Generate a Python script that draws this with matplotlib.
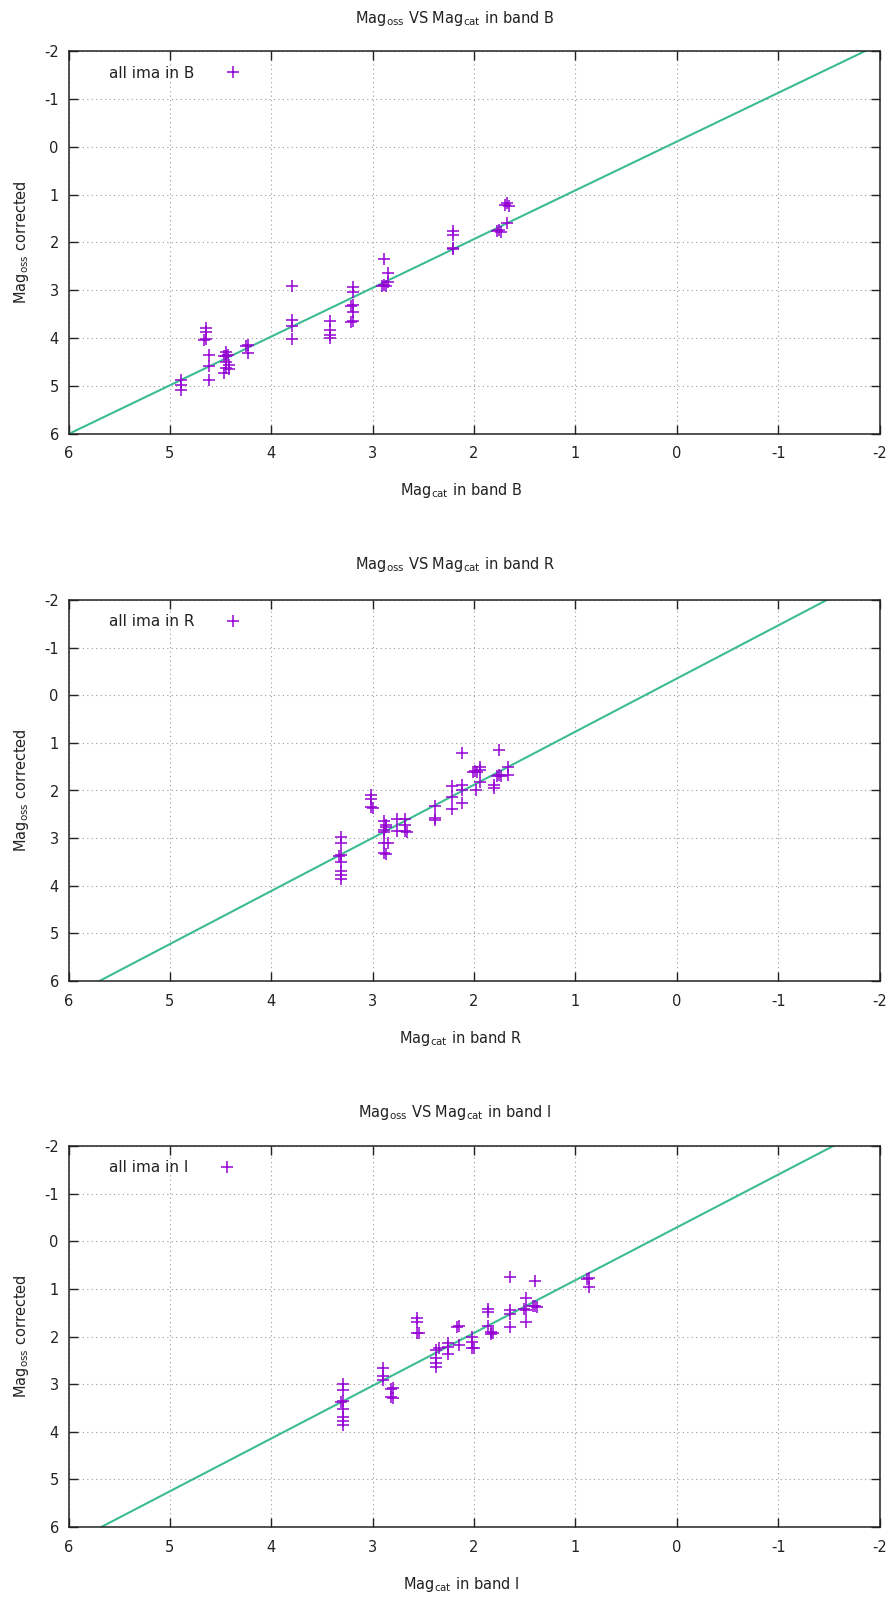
import matplotlib
matplotlib.use("Agg")
import matplotlib.pyplot as plt
import numpy as np

plt.rcParams['font.family'] = ['DejaVu Sans']
plt.rcParams['mathtext.fontset'] = 'dejavusans'
plt.rcParams['axes.unicode_minus'] = False

# ---------------- data ----------------
bands = ["B", "R", "I"]

xcat_B = [4.89, 4.89, 4.89, 4.64, 4.64, 4.64, 4.66, 4.61, 4.61, 4.61, 4.47, 4.47,
          4.45, 4.45, 4.45, 4.45, 4.43, 4.42, 4.42, 4.23, 4.23, 4.25,
          3.80, 3.80, 3.80, 3.80, 3.42, 3.42, 3.42, 3.42,
          3.19, 3.19, 3.19, 3.21, 3.19, 3.21, 3.19,
          2.89, 2.85, 2.85, 2.89, 2.87, 2.91,
          2.21, 2.21, 2.21, 2.21, 1.75, 1.73, 1.77, 1.67, 1.69, 1.65, 1.67]
yoss_B = [4.87, 4.97, 5.08, 3.79, 3.86, 4.02, 4.04, 4.36, 4.59, 4.87, 4.38, 4.73,
          4.28, 4.38, 4.49, 4.63, 4.36, 4.56, 4.65, 4.14, 4.31, 4.16,
          2.90, 3.62, 3.74, 4.02, 3.65, 3.83, 3.93, 4.00,
          2.93, 3.04, 3.30, 3.32, 3.46, 3.67, 3.65,
          2.34, 2.64, 2.82, 2.88, 2.90, 2.90,
          1.76, 1.84, 2.12, 2.14, 1.74, 1.79, 1.77, 1.18, 1.22, 1.23, 1.60]

xcat_R = [3.31, 3.31, 3.31, 3.33, 3.31, 3.31, 3.31, 3.31,
          3.02, 3.02, 3.02, 3.00,
          2.89, 2.89, 2.89, 2.89, 2.89, 2.87, 2.87, 2.87, 2.85,
          2.76, 2.76, 2.68, 2.68, 2.68, 2.66,
          2.38, 2.38, 2.38, 2.22, 2.22, 2.22,
          2.12, 2.12, 2.12, 2.12, 1.99, 2.01, 1.97, 1.94, 1.94, 1.94, 1.98,
          1.80, 1.80, 1.75, 1.75, 1.73, 1.77, 1.66, 1.66]
yoss_R = [2.98, 3.10, 3.35, 3.37, 3.51, 3.69, 3.78, 3.85,
          2.10, 2.17, 2.34, 2.36,
          2.65, 2.83, 2.88, 3.10, 3.31, 3.33, 2.72, 2.76, 3.10,
          2.60, 2.85, 2.60, 2.72, 2.85, 2.87,
          2.33, 2.58, 2.62, 1.91, 2.13, 2.39,
          1.21, 1.89, 1.98, 2.27, 1.59, 1.61, 1.62, 1.51, 1.56, 1.82, 1.98,
          1.88, 1.94, 1.15, 1.68, 1.69, 1.70, 1.51, 1.68]

xcat_I = [3.29, 3.29, 3.29, 3.31, 3.29, 3.29, 3.29, 3.29,
          2.90, 2.90, 2.90, 2.80, 2.80, 2.82, 2.82,
          2.56, 2.56, 2.56, 2.54, 2.37, 2.37, 2.37, 2.37, 2.35,
          2.26, 2.26, 2.26, 2.15, 2.17, 2.15, 2.02, 2.02, 2.02, 2.00,
          1.86, 1.86, 1.86, 1.83, 1.83, 1.81,
          1.64, 1.64, 1.64, 1.64, 1.49, 1.49, 1.49, 1.51,
          1.40, 1.40, 1.42, 1.38, 0.87, 0.87, 0.89]
yoss_I = [2.99, 3.13, 3.36, 3.38, 3.52, 3.70, 3.78, 3.85,
          2.67, 2.83, 2.91, 3.08, 3.29, 3.10, 3.27,
          1.62, 1.69, 1.92, 1.93, 2.28, 2.46, 2.56, 2.63, 2.25,
          2.14, 2.21, 2.37, 1.78, 1.80, 2.18, 2.00, 2.11, 2.25, 2.24,
          1.43, 1.48, 1.78, 1.90, 1.95, 1.93,
          0.75, 1.44, 1.53, 1.81, 1.20, 1.44, 1.69, 1.42,
          0.83, 1.36, 1.37, 1.38, 0.78, 0.96, 0.80]

# linear fit (slope, intercept) per band
fit_B = (1.018, -0.107)
fit_R = (1.115, -0.35)
fit_I = (1.108, -0.29)

xticks = [6, 5, 4, 3, 2, 1, 0, -1, -2]
yticks = [-2, -1, 0, 1, 2, 3, 4, 5, 6]

data = {"B": (xcat_B, yoss_B, fit_B), "R": (xcat_R, yoss_R, fit_R), "I": (xcat_I, yoss_I, fit_I)}

# ---------------- layout ----------------
W, H = 891, 1601
fig = plt.figure(figsize=(W / 100, H / 100), dpi=100)
left_px, right_px = 68.5, 879.5
panels_px = [(51, 434), (600, 981), (1146, 1527)]
title_y = [18, 565, 1112]
xlab_y = [491, 1038, 1584]

ink = '#222222'
pt_color = '#9400d3'
line_color = '#3dbb93'

for band, (top, bot), ty, xly in zip(bands, panels_px, title_y, xlab_y):
    xc, yo, (a, b) = data[band]
    ax = fig.add_axes([left_px / W, 1 - bot / H, (right_px - left_px) / W, (bot - top) / H])
    ax.set_xlim(6, -2)
    ax.set_ylim(6, -2)
    ax.set_xticks(xticks)
    ax.set_yticks(yticks)
    ax.set_xticklabels([str(t) for t in xticks])
    ax.set_yticklabels([str(t) for t in yticks])
    ax.grid(True, color='#9a9a9a', linestyle=(0, (1, 3)), linewidth=0.8)
    ax.set_axisbelow(True)
    ax.tick_params(direction='in', length=6.5, width=1.0, top=True, right=True,
                   colors=ink, labelsize=10.5, pad=7)
    ax.tick_params(axis='x', pad=9)
    for s in ax.spines.values():
        s.set_linewidth(1.1)
        s.set_color(ink)

    xs = np.array([6.0, -2.0])
    ax.plot(xs, a * xs + b, color=line_color, lw=1.5, zorder=2)
    ax.plot(xc, yo, linestyle='none', marker='+', ms=8, mew=1.1, color=pt_color,
            zorder=3, label=f'all ima in {band}')

    leg = ax.legend(loc='upper left', bbox_to_anchor=(0.05, 0.962), frameon=False,
                    markerfirst=False, handlelength=2.0, handletextpad=1.5,
                    fontsize=11, borderpad=0, borderaxespad=0)
    for t in leg.get_texts():
        t.set_color(ink)

    fig.text(455 / W, 1 - ty / H, r'Mag$_{\mathrm{oss}}$ VS Mag$_{\mathrm{cat}}$ in band ' + band,
             ha='center', va='center', fontsize=10.5, color=ink)
    fig.text(461 / W, 1 - xly / H, r'Mag$_{\mathrm{cat}}$ in band ' + band,
             ha='center', va='center', fontsize=10.5, color=ink)
    fig.text(22 / W, 1 - (top + bot) / 2 / H, r'Mag$_{\mathrm{oss}}$ corrected',
             ha='center', va='center', rotation=90, fontsize=10.5, color=ink)

fig.savefig('out.png', dpi=100)
